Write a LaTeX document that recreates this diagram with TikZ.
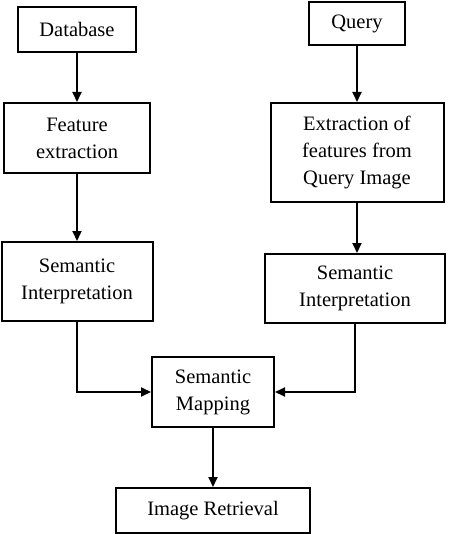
\documentclass[tikz,border=0pt]{standalone}
\usepackage{fontspec}
\setmainfont{Liberation Serif}
\usetikzlibrary{arrows.meta}
\begin{document}
\begin{tikzpicture}[x=1pt,y=-1pt,
  box/.style={draw,line width=2pt,inner sep=0pt,align=center,
    font=\fontsize{20.5}{27}\selectfont},
  conn/.style={line width=2pt,-{Triangle[length=10pt,width=9pt]}}]
\useasboundingbox (0,0) rectangle (451,534);
\node[box,minimum width=118pt,minimum height=45pt] (db) at (77,29.5) {Database};
\node[box,minimum width=146pt,minimum height=70pt] (fe) at (77,138) {Feature\\extraction};
\node[box,minimum width=151pt,minimum height=79pt] (lsi) at (77,281.5) {Semantic\\Interpretation};
\node[box,minimum width=96pt,minimum height=43pt] (q) at (357,23.5) {Query};
\node[box,minimum width=173pt,minimum height=99pt] (ex) at (357,152.5) {Extraction of\\features from\\Query Image};
\node[box,minimum width=180pt,minimum height=69pt] (rsi) at (355,288.5) {Semantic\\Interpretation};
\node[box,minimum width=122pt,minimum height=70pt] (sm) at (213,392) {Semantic\\Mapping};
\node[box,minimum width=194pt,minimum height=45pt] (ir) at (213,510.5) {Image Retrieval};
\draw[conn] (db.south) -- (db.south |- fe.north);
\draw[conn] (fe.south) -- (fe.south |- lsi.north);
\draw[conn] (q.south) -- (q.south |- ex.north);
\draw[conn] (ex.south) -- (ex.south |- rsi.north);
\draw[conn] (lsi.south) |- (sm.west);
\draw[conn] (rsi.south) |- (sm.east);
\draw[conn] (sm.south) -- (ir.north);
\end{tikzpicture}
\end{document}
